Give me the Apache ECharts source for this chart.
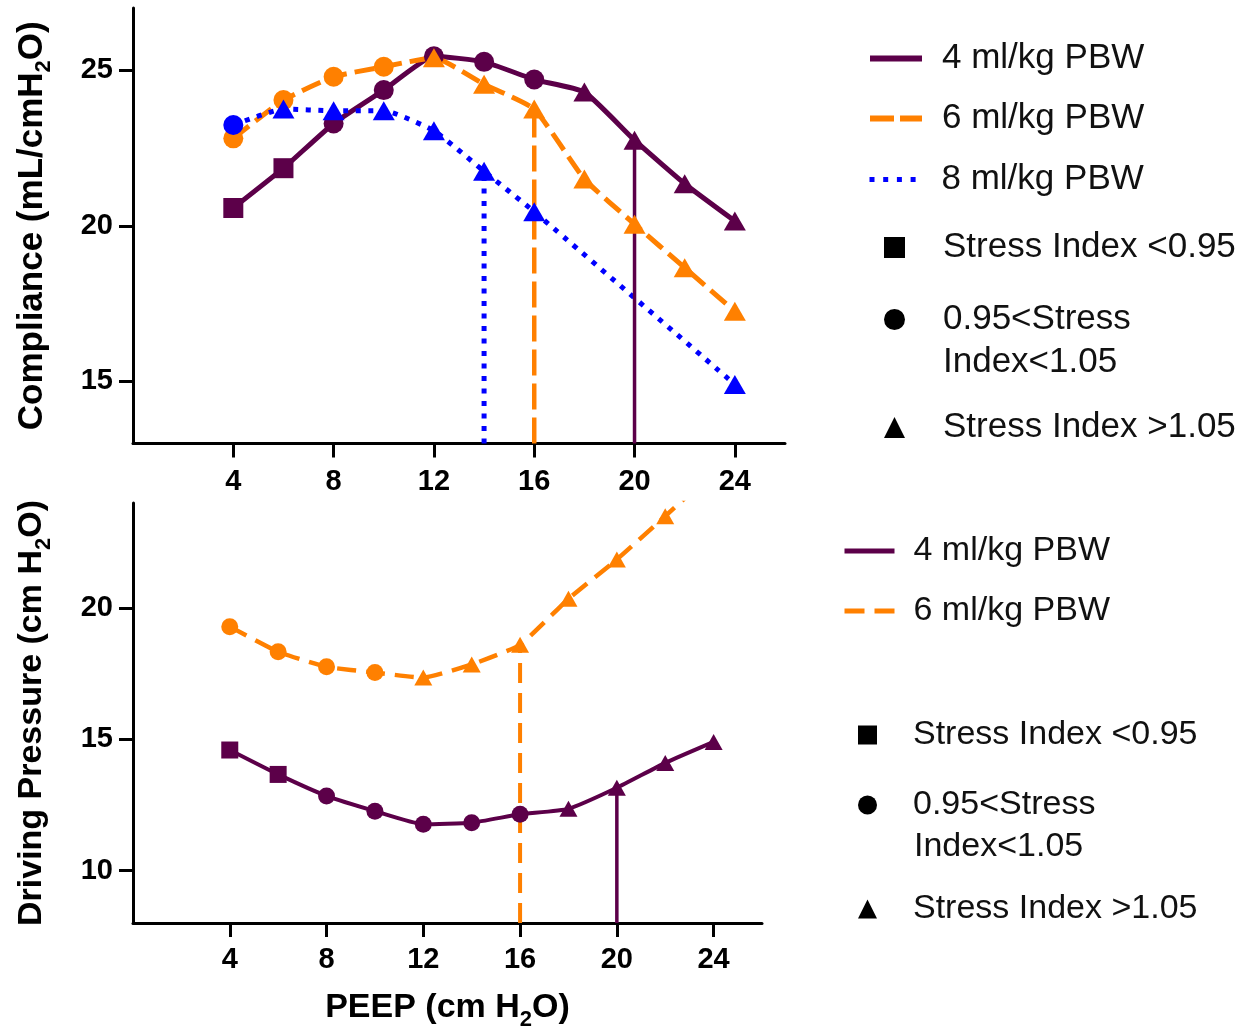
<!DOCTYPE html>
<html><head><meta charset="utf-8">
<script src="https://cdn.jsdelivr.net/npm/echarts@6/dist/echarts.min.js"></script>
<style>html,body{margin:0;padding:0;background:#fff}#chart{width:1238px;height:1032px}</style>
</head><body><div id="chart"></div>
<script>
// ---------- data ----------
const peep = [4, 6, 8, 10, 12, 14, 16, 18, 20, 22, 24];
const xTicks = [4, 8, 12, 16, 20, 24];
const complianceTicks = [15, 20, 25];
const drivingTicks = [10, 15, 20];

// stress index class: 0 = <0.95 (square), 1 = 0.95-1.05 (circle), 2 = >1.05 (triangle)
const compliance4 = [20.57, 21.85, 23.29, 24.36, 25.45, 25.27, 24.70, 24.30, 22.75, 21.35, 20.15];
const compStress4 = [0, 0, 1, 1, 1, 1, 1, 2, 2, 2, 2];
const compliance6 = [22.81, 24.04, 24.79, 25.11, 25.40, 24.55, 23.75, 21.50, 20.05, 18.65, 17.25];
const compStress6 = [1, 1, 1, 1, 2, 2, 2, 2, 2, 2, 2];
const peep8 = [4, 6, 8, 10, 12, 14, 16, 24];
const compliance8 = [23.24, 23.75, 23.70, 23.70, 23.05, 21.75, 20.45, 14.90];
const compStress8 = [1, 2, 2, 2, 2, 2, 2, 2];

const driving4 = [14.59, 13.66, 12.84, 12.26, 11.76, 11.82, 12.14, 12.35, 13.15, 14.10, 14.90];
const drivStress4 = [0, 0, 1, 1, 1, 1, 1, 2, 2, 2, 2];
const driving6 = [19.29, 18.33, 17.76, 17.54, 17.35, 17.85, 18.60, 20.35, 21.85, 23.50, 25.20];
const drivStress6 = [1, 1, 1, 1, 2, 2, 2, 2, 2, 2, 2];

// optimal PEEP (drop lines)
const bestPeep4 = 20, bestPeep6 = 16, bestPeep8 = 14;

const names = ['4 ml/kg PBW', '6 ml/kg PBW', '8 ml/kg PBW'];
const stressNames = ['Stress Index <0.95', '0.95<Stress Index<1.05', 'Stress Index >1.05'];
const stressLines = ['0.95<Stress', 'Index<1.05'];

// ---------- styles ----------
const PURPLE = '#5c0049', ORANGE = '#ff8000', BLUE = '#0000ff';
const FONT = 'Liberation Sans, Arial, sans-serif';
const symbols = ['rect', 'circle', 'triangle'];
const sizeTop = [[20, 20], [20, 20], [22, 19]];
const sizeBot = [[17, 17], [17, 17], [18, 16]];

const topMin = 13, topMax = 27, botMin = 8, botMax = 24;

function pairs(xs, ys) { return xs.map((x, i) => [x, ys[i]]); }
function dropLine(xs, ys, best, ymin) {
  const i = xs.indexOf(best);
  return [[best, ymin], [best, ys[i]]];
}

const axisCommon = {
  axisLine: { onZero: false, lineStyle: { color: '#000', width: 3 } },
  axisTick: { length: 14, lineStyle: { color: '#000', width: 3 } },
  splitLine: { show: false },
  axisLabel: { color: '#000', fontSize: 29, fontWeight: 'bold', fontFamily: FONT }
};
function nameRich(size) {
  return {
    b: { fontSize: size, fontWeight: 'bold', fontFamily: FONT, color: '#000', lineHeight: 46 },
    s: { fontSize: Math.round(size * 0.64), fontWeight: 'bold', fontFamily: FONT, color: '#000', lineHeight: 22, verticalAlign: 'bottom' }
  };
}

function xAxis(gridIndex, margin, withName) {
  const ax = Object.assign({}, axisCommon, {
    type: 'value', gridIndex, min: 0, max: 26,
    axisTick: Object.assign({}, axisCommon.axisTick, { customValues: xTicks }),
    axisLabel: Object.assign({}, axisCommon.axisLabel, { customValues: xTicks, margin })
  });
  if (withName) {
    ax.name = '{b|PEEP (cm H}{s|2}{b|O)}';
    ax.nameLocation = 'middle';
    ax.nameGap = 62;
    ax.nameTextStyle = { rich: nameRich(34) };
  }
  return ax;
}
function yAxis(gridIndex, min, max, ticks, name, size) {
  return Object.assign({}, axisCommon, {
    type: 'value', gridIndex, min, max,
    axisTick: Object.assign({}, axisCommon.axisTick, { customValues: ticks }),
    axisLabel: Object.assign({}, axisCommon.axisLabel, { customValues: ticks, margin: 20 }),
    name, nameLocation: 'middle', nameGap: 78, nameTextStyle: { rich: nameRich(size) }
  });
}

const series = [];
function curve(name, axis, xs, ys, color, width, type) {
  series.push({
    name, type: 'line', xAxisIndex: axis, yAxisIndex: axis, data: pairs(xs, ys),
    smooth: 0.15, symbol: 'none', showSymbol: false, z: 2,
    lineStyle: { color, width, type }, itemStyle: { color }
  });
}
function drop(axis, data, color, width, type) {
  series.push({
    name: 'drop', type: 'line', xAxisIndex: axis, yAxisIndex: axis, data,
    symbol: 'none', z: 3, silent: true, lineStyle: { color, width, type }
  });
}
function markers(axis, groups, sizes) {
  for (let c = 0; c < 3; c++) {
    const data = [];
    groups.forEach(g => {
      g.xs.forEach((x, i) => {
        if (g.cls[i] === c) data.push({ value: [x, g.ys[i]], itemStyle: { color: g.color, opacity: 1 } });
      });
    });
    series.push({
      name: stressNames[c], type: 'scatter', xAxisIndex: axis, yAxisIndex: axis,
      symbol: symbols[c], symbolSize: sizes[c], data, z: 4,
      itemStyle: { color: '#000', opacity: 1 }
    });
  }
}

// top panel
curve(names[0], 0, peep, compliance4, PURPLE, 5, 'solid');
curve(names[1], 0, peep, compliance6, ORANGE, 5, [20, 8]);
curve(names[2], 0, peep8, compliance8, BLUE, 5, [5, 7.5]);
drop(0, dropLine(peep8, compliance8, bestPeep8, topMin), BLUE, 5, [5, 7.5]);
drop(0, dropLine(peep, compliance6, bestPeep6, topMin), ORANGE, 4.5, [26, 8]);
drop(0, dropLine(peep, compliance4, bestPeep4, topMin), PURPLE, 3.5, 'solid');
markers(0, [
  { xs: peep, ys: compliance4, cls: compStress4, color: PURPLE },
  { xs: peep, ys: compliance6, cls: compStress6, color: ORANGE },
  { xs: peep8, ys: compliance8, cls: compStress8, color: BLUE }
], sizeTop);

// bottom panel
curve(names[0], 1, peep, driving4, PURPLE, 4, 'solid');
curve(names[1], 1, peep, driving6, ORANGE, 4.5, [19, 10]);
drop(1, dropLine(peep, driving6, bestPeep6, botMin), ORANGE, 4, [20, 10]);
drop(1, dropLine(peep, driving4, bestPeep4, botMin), PURPLE, 3.5, 'solid');
markers(1, [
  { xs: peep, ys: driving4, cls: drivStress4, color: PURPLE },
  { xs: peep, ys: driving6, cls: drivStress6, color: ORANGE }
], sizeBot);

// legends: one component per entry
const legends = [];
function legendItem(name, left, top, iw, ih, padLeft, fontSize, lineStyle, label) {
  legends.push({
    data: [name], left, top, orient: 'vertical', padding: 0, selectedMode: false,
    itemWidth: iw, itemHeight: ih,
    lineStyle: lineStyle || {},
    itemStyle: lineStyle ? { opacity: 0 } : {},
    formatter: label ? () => label : undefined,
    textStyle: { fontSize, fontFamily: FONT, color: '#111', padding: [0, 0, 0, padLeft] }
  });
}
// top legend
legendItem(names[0], 867, 57 - 16, 52, 20, 15, 35, { width: 6, type: 'solid' });
legendItem(names[1], 867, 117 - 16, 52, 20, 15, 35, { width: 6, type: [24, 6] });
legendItem(names[2], 867, 178 - 16, 52, 20, 15, 35, { width: 5, type: [5, 8.7] });
legendItem(stressNames[0], 884, 246 - 16, 21, 21, 33, 35);
legendItem(stressNames[1], 884, 318 - 16, 21, 21, 33, 35, null, stressLines[0]);
legendItem(stressNames[2], 884, 426 - 16, 21, 21, 33, 35);
// bottom legend
legendItem(names[0], 842, 549 - 15, 50, 20, 14, 34, { width: 5, type: 'solid' });
legendItem(names[1], 842, 609 - 15, 50, 20, 14, 34, { width: 5, type: [20, 10] });
legendItem(stressNames[0], 858, 733 - 15, 19, 19, 31, 34);
legendItem(stressNames[1], 858, 803 - 15, 19, 19, 31, 34, null, stressLines[0]);
legendItem(stressNames[2], 858, 907 - 15, 19, 19, 31, 34);

const option = {
  backgroundColor: '#fff',
  animation: false,
  grid: [
    { left: 133, top: 8, width: 652, height: 435.5 },
    { left: 133, top: 503, width: 629, height: 421 }
  ],
  xAxis: [xAxis(0, 24, false), xAxis(1, 22, true)],
  yAxis: [
    yAxis(0, topMin, topMax, complianceTicks, '{b|Compliance (mL/cmH}{s|2}{b|O)}', 35),
    yAxis(1, botMin, botMax, drivingTicks, '{b|Driving Pressure (cm H}{s|2}{b|O)}', 34)
  ],
  legend: legends,
  graphic: [
    { type: 'text', left: 943, top: 361 - 16, style: { text: stressLines[1], fontSize: 35, fontFamily: FONT, fill: '#111' } },
    { type: 'text', left: 914, top: 845 - 15, style: { text: stressLines[1], fontSize: 34, fontFamily: FONT, fill: '#111' } }
  ],
  series
};
const chart = echarts.init(document.getElementById('chart'), null, { renderer: 'canvas' });
chart.setOption(option);
</script></body></html>
